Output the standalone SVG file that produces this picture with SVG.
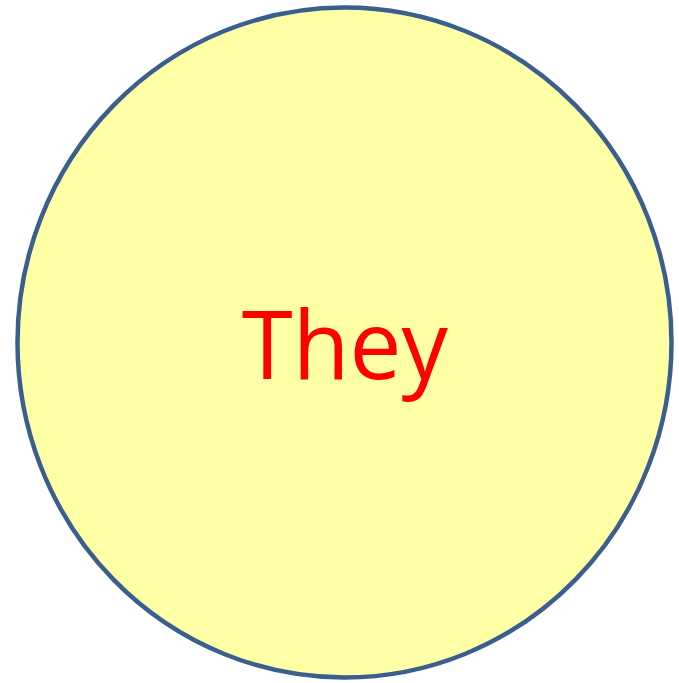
<svg xmlns="http://www.w3.org/2000/svg" width="679" height="683" viewBox="0 0 679 683">
<style>
.node{fill:#FFFFA5;stroke:#3A5E8E;stroke-width:4.5}
.lbl{font-family:"Open Sans","Noto Sans","Liberation Sans",sans-serif;font-size:96px;fill:#FF0000}
</style>
<rect width="679" height="683" fill="#FFFFFF"/>
<g id="connectors"></g>
<g id="they">
<ellipse class="node" cx="344.5" cy="342.5" rx="327" ry="335"/>
<text class="lbl" x="344.8" y="379" text-anchor="middle" textLength="206" lengthAdjust="spacingAndGlyphs">They</text>
</g>
</svg>
